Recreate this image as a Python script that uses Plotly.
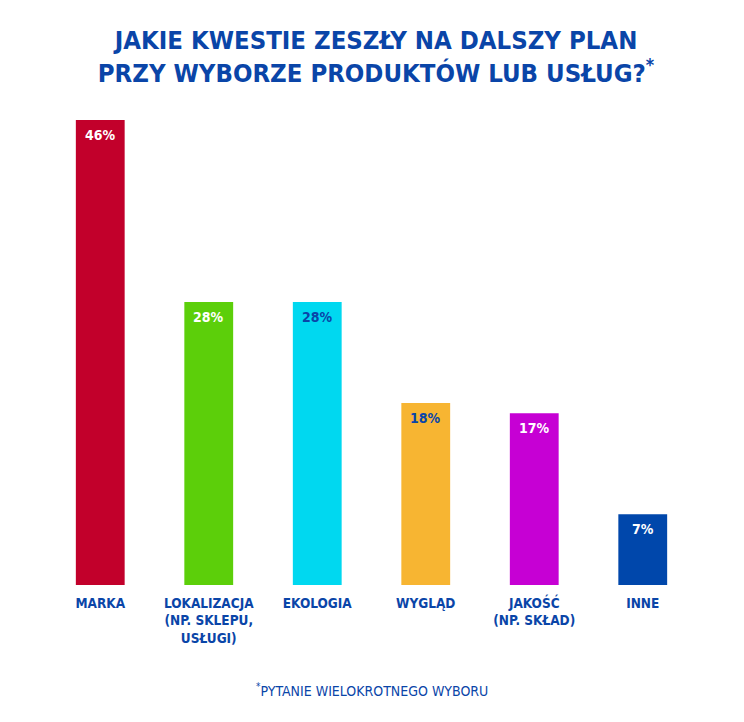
import plotly.graph_objects as go

categories = ["MARKA", "LOKALIZACJA<br>(NP. SKLEPU,<br>USŁUGI)", "EKOLOGIA", "WYGLĄD", "JAKOŚĆ<br>(NP. SKŁAD)", "INNE"]
values = [46, 28, 28, 18, 17, 7]
labels = ["46%", "28%", "28%", "18%", "17%", "7%"]
bar_colors = ["#C2002B", "#5CCF0A", "#00D8F0", "#F7B532", "#C600D4", "#0047AB"]
label_colors = ["#FFFFFF", "#FFFFFF", "#0A45A8", "#0A45A8", "#FFFFFF", "#FFFFFF"]

BLUE = "#0A45A8"
FONT = "DejaVu Sans Condensed, DejaVu Sans, sans-serif"

fig = go.Figure(go.Bar(
    x=categories, y=values,
    marker=dict(color=bar_colors, line=dict(width=0)),
    width=0.45,
    hoverinfo="x+y",
))

annotations = []
for cat, val, lab, col in zip(categories, values, labels, label_colors):
    annotations.append(dict(
        x=cat, y=val, xref="x", yref="y", text="<b>" + lab + "</b>",
        showarrow=False, xanchor="center", yanchor="middle", yshift=-15,
        font=dict(family=FONT, size=14, color=col),
    ))

W, H = 736, 714
annotations.append(dict(
    text="<sup>*</sup>PYTANIE WIELOKROTNEGO WYBORU",
    xref="paper", yref="paper", x=0.5, y=-0.226,
    xanchor="center", yanchor="middle", showarrow=False,
    font=dict(family=FONT, size=14, color=BLUE),
))

fig.update_layout(
    width=W, height=H,
    paper_bgcolor="white", plot_bgcolor="white",
    margin=dict(l=38, r=47, t=112, b=137),
    showlegend=False,
    title=dict(
        text="<b>JAKIE KWESTIE ZESZŁY NA DALSZY PLAN<br>PRZY WYBORZE PRODUKTÓW LUB USŁUG?<sup>*</sup></b>",
        x=0.5, xanchor="center", y=1 - 40.5 / H, yanchor="top",
        font=dict(family=FONT, size=25.5, color=BLUE),
    ),
    xaxis=dict(
        showgrid=False, zeroline=False, showline=False, ticks="",
        ticklabelstandoff=8,
        tickfont=dict(family=FONT, size=13.5, color=BLUE, weight="bold"),
    ),
    yaxis=dict(
        range=[0, 46], showgrid=False, zeroline=False, showline=False,
        showticklabels=False, ticks="",
    ),
    annotations=annotations,
)

fig.write_html("out.html")
